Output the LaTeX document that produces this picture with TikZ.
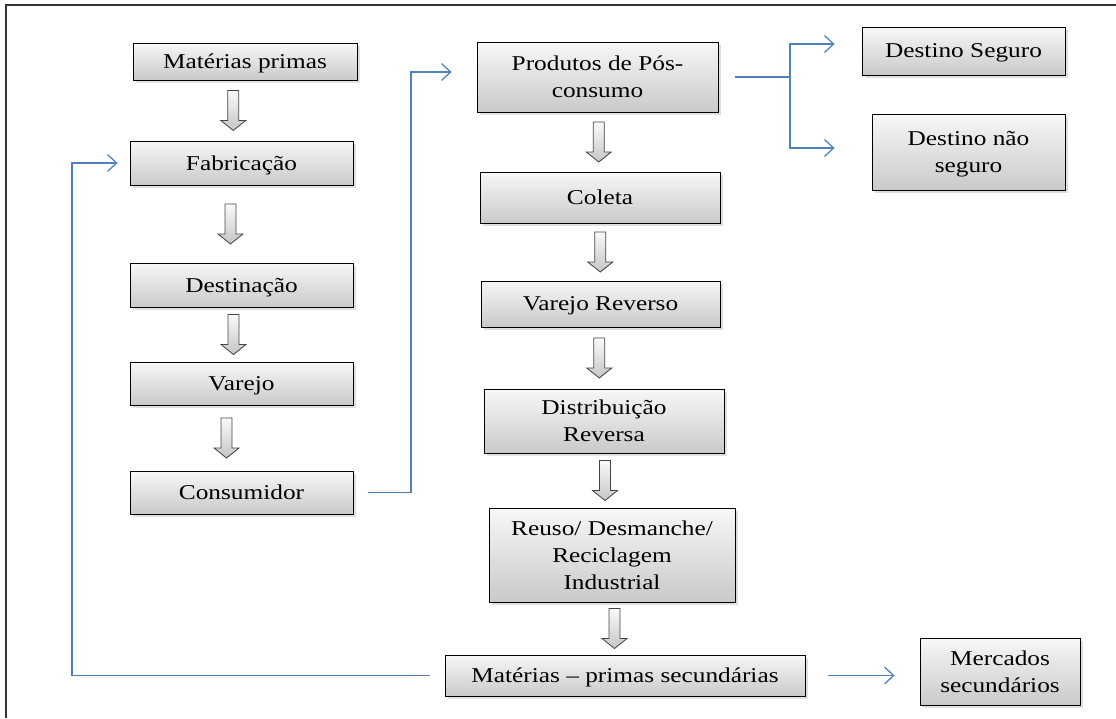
\documentclass[tikz,border=0pt]{standalone}
\usepackage{fontspec}
\setmainfont{Liberation Serif}[FakeStretch=1.2]
\usepackage{tikz}
\usetikzlibrary{calc, shadows, arrows.meta}

\definecolor{linkblue}{HTML}{4F81BD}

\tikzset{
    stage/.style 2 args={draw=black, line width=0.6pt, inner sep=0pt, align=center,
        top color=gray!6, bottom color=gray!42, text depth=0pt,
        drop shadow={shadow xshift=2pt, shadow yshift=-2pt, opacity=0.25},
        minimum width=#1*0.025cm, minimum height=#2*0.025cm,
        font=\fontsize{15}{19}\selectfont},
    blkarr/.style={draw=gray!55!black, line width=0.6pt, top color=gray!4, bottom color=gray!45},
    link/.style={draw=linkblue, line width=0.9pt},
    tip/.style={-{Straight Barb[length=6.5pt,width=12pt]}}
}

\newcommand{\flow}[3][0]{%
    \draw[blkarr] ($(#2.south)!0.5!(#3.north)$) ++(#1-5.5,-20) -- ++(11,0) -- ++(0,30)
        -- ++(7,0) -- ++(-12.5,10) -- ++(-12.5,-10) -- ++(7,0) -- cycle;}

\begin{document}
\begin{tikzpicture}[x=0.025cm, y=-0.025cm]
    \useasboundingbox (0,0) rectangle (1116,718);
    \draw[gray!40!black, line width=1pt] (6,718) -- (6,5) -- (1116,5);

    \node[stage={224}{37}] (mp) at (245,61.5) {Matérias primas};
    \node[stage={223}{44}] (fab) at (241.5,163) {Fabricação};
    \node[stage={223}{44}] (dest) at (241.5,285) {Destinação};
    \node[stage={223}{43}] (var) at (241.5,383.5) {Varejo};
    \node[stage={223}{43}] (cons) at (241.5,492.5) {Consumidor};

    \node[stage={241}{70}] (prod) at (597.5,77) {Produtos de Pós-\\consumo};
    \node[stage={240}{51}] (col) at (600,197.5) {Coleta};
    \node[stage={239}{46}] (vr) at (600.5,304) {Varejo Reverso};
    \node[stage={240}{64}] (dist) at (604,421) {Distribuição\\Reversa};
    \node[stage={246}{94}] (reu) at (612,555) {Reuso/ Desmanche/\\Reciclagem\\Industrial};
    \node[stage={360}{41}] (ms) at (625,675.5) {Matérias -- primas secundárias};
    \node[stage={160}{67}] (merc) at (1000,671.5) {Mercados\\secundários};

    \node[stage={203}{48}] (ds) at (963.5,51) {Destino Seguro};
    \node[stage={193}{76}] (dns) at (968.5,152) {Destino não\\seguro};

    \flow[-10]{mp}{fab}
    \flow[-11]{fab}{dest}
    \flow[-8]{dest}{var}
    \flow[-15]{var}{cons}
    \flow{prod}{col}
    \flow{col}{vr}
    \flow[-3]{vr}{dist}
    \flow[-3]{dist}{reu}
    \flow[-4]{reu}{ms}

    \coordinate (fork) at (790,77);
    \draw[link, tip, shorten <=0.375cm, shorten >=0.625cm] (cons.east) -- (411,492.5) |- ([yshift=0.125cm]prod.west);
    \draw[link, shorten <=0.425cm] (prod.east) -- (fork);
    \draw[link, tip, shorten >=0.675cm] (fork) |- ([yshift=0.175cm]ds.west);
    \draw[link, tip, shorten >=0.925cm] (fork) |- ([yshift=0.1cm]dns.west);
    \draw[link, tip, shorten <=0.375cm, shorten >=0.3cm] (ms.west) -- (72,675.5) |- (fab.west);
    \draw[link, tip, shorten <=0.575cm, shorten >=0.625cm] (ms.east) -- (ms.east -| merc.west);
\end{tikzpicture}
\end{document}
